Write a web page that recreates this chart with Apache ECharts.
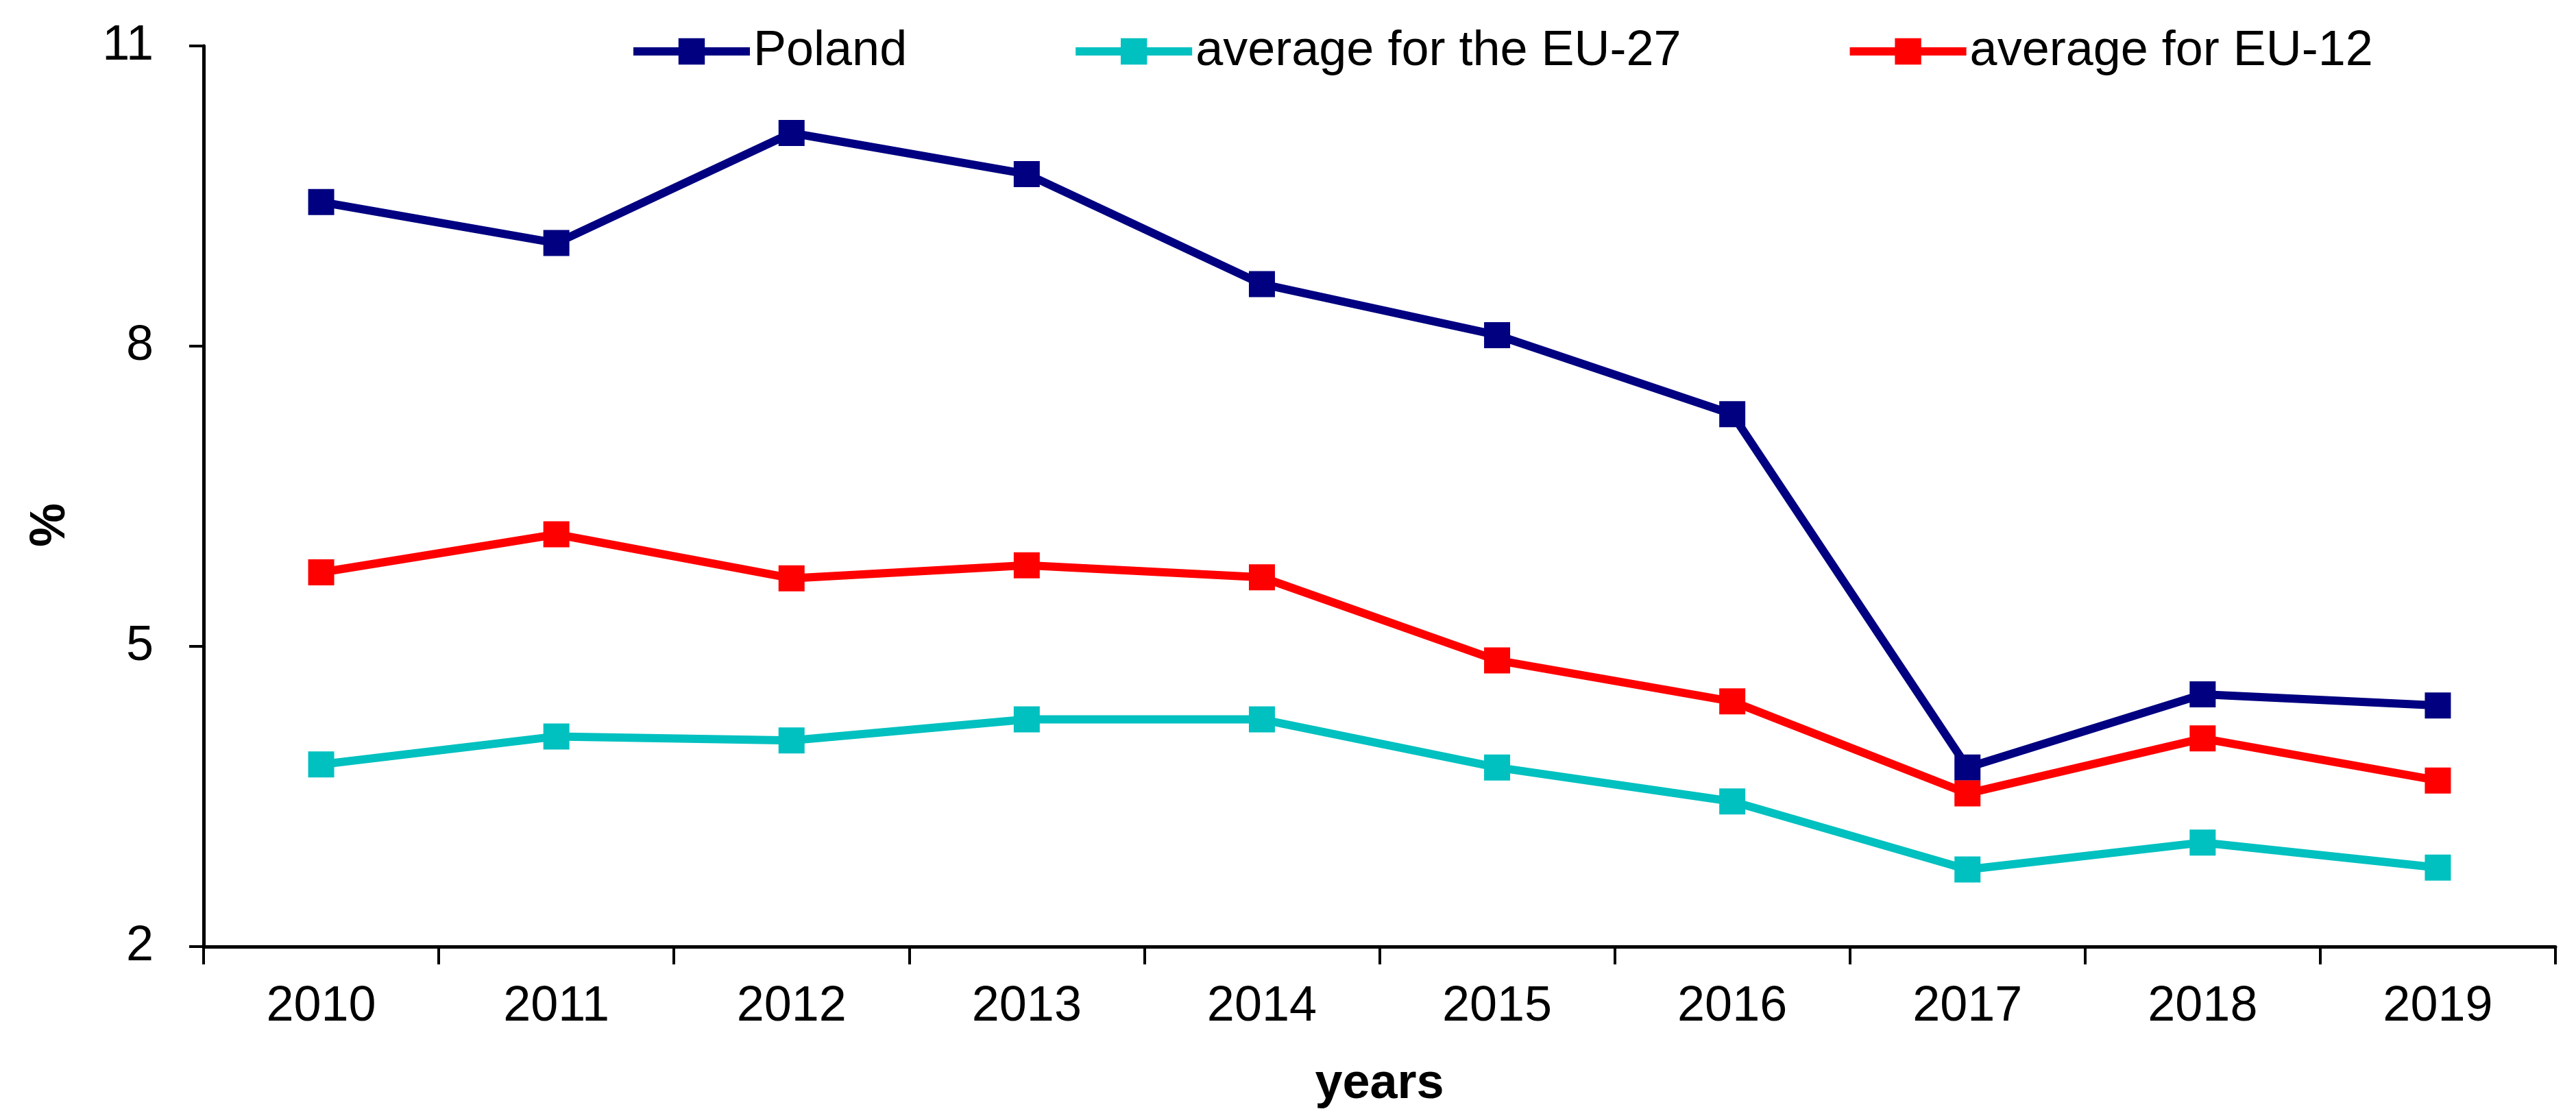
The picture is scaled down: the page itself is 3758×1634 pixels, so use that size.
<!DOCTYPE html>
<html>
<head>
<meta charset="utf-8">
<script src="https://cdn.jsdelivr.net/npm/echarts@6/dist/echarts.min.js"></script>
<style>
html,body{margin:0;padding:0;background:#fff;}
#chart{width:3758px;height:1634px;}
</style>
</head>
<body>
<div id="chart"></div>
<script>
const years = ['2010','2011','2012','2013','2014','2015','2016','2017','2018','2019'];
const poland = [9.44, 9.03, 10.13, 9.72, 8.62, 8.11, 7.32, 3.79, 4.52, 4.41];
const eu27 = [3.82, 4.10, 4.06, 4.27, 4.27, 3.79, 3.45, 2.77, 3.04, 2.79];
const eu12 = [5.74, 6.12, 5.68, 5.81, 5.69, 4.86, 4.45, 3.53, 4.08, 3.66];
const seriesNames = ['Poland', 'average for the EU-27', 'average for EU-12'];
const yTicks = [2, 5, 8, 11];

const chart = echarts.init(document.getElementById('chart'));
const font = 'Liberation Sans, Arial, sans-serif';
function mk(name, data, color) {
  return {
    name: name, type: 'line', data: data,
    symbol: 'rect', symbolSize: 38,
    lineStyle: {color: color, width: 12},
    itemStyle: {color: color},
    emphasis: {disabled: true},
    animation: false
  };
}
chart.setOption({
  backgroundColor: '#fff',
  animation: false,
  textStyle: {fontFamily: font},
  legend: {
    top: 34, left: 913,
    itemWidth: 170, itemHeight: 48, itemGap: 240,
    lineStyle: {width: 12},
    textStyle: {fontSize: 72, color: '#000', fontFamily: font},
    data: seriesNames
  },
  grid: {left: 297, right: 30, top: 67, bottom: 253, containLabel: false},
  xAxis: {
    type: 'category', data: years, boundaryGap: true,
    name: 'years', nameLocation: 'middle', nameGap: 165,
    nameTextStyle: {fontSize: 72, fontWeight: 'bold', color: '#000', fontFamily: font},
    axisLine: {lineStyle: {color: '#000', width: 5}},
    axisTick: {show: true, length: 26, lineStyle: {color: '#000', width: 4}},
    axisLabel: {fontSize: 72, color: '#000', margin: 52, fontFamily: font}
  },
  yAxis: {
    type: 'value', min: 2, max: 11, interval: 3,
    name: '%', nameLocation: 'middle', nameGap: 187,
    nameTextStyle: {fontSize: 72, fontWeight: 'bold', color: '#000', fontFamily: font, padding: [0, 84, 0, 0]},
    axisLine: {show: true, lineStyle: {color: '#000', width: 5}},
    axisTick: {show: true, length: 21, lineStyle: {color: '#000', width: 4}},
    axisLabel: {fontSize: 72, color: '#000', margin: 73, fontFamily: font,
      formatter: function(v){ return yTicks.indexOf(v) >= 0 ? String(v) : ''; }},
    splitLine: {show: false}
  },
  series: [
    mk(seriesNames[0], poland, '#000080'),
    mk(seriesNames[1], eu27, '#00C0C0'),
    mk(seriesNames[2], eu12, '#FF0000')
  ]
});
</script>
</body>
</html>
